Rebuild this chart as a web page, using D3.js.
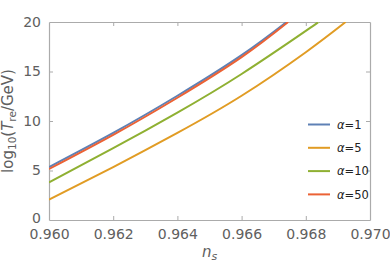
<!DOCTYPE html>
<html>
<head>
<meta charset="utf-8">
<script src="https://cdn.jsdelivr.net/npm/d3@7"></script>
<style>
  html, body { margin: 0; padding: 0; background: #fff; }
  svg { display: block; }
</style>
</head>
<body>
<svg id="chart" width="390" height="269"></svg>
<script>
// ---- data ----
const seriesLabels = ["α=1", "α=5", "α=10", "α=50"];
const seriesColors = ["#5E81B5", "#E19C24", "#8FB032", "#EB6235"];

const nsA1  = [0.960, 0.962, 0.964, 0.966, 0.9674];
const tA1   = [5.35, 8.8, 12.55, 16.65, 20];
const nsA5  = [0.960, 0.962, 0.964, 0.966, 0.968, 0.96924];
const tA5   = [2.05, 5.35, 8.8, 12.55, 16.95, 20];
const nsA10 = [0.960, 0.962, 0.964, 0.966, 0.968, 0.9684];
const tA10  = [3.8, 7.25, 10.85, 14.75, 19.1, 20];
const nsA50 = [0.960, 0.962, 0.964, 0.966, 0.96745];
const tA50  = [5.15, 8.6, 12.35, 16.45, 20];

const xTicks = [0.960, 0.962, 0.964, 0.966, 0.968, 0.970];
const yTicks = [0, 5, 10, 15, 20];

// ---- layout ----
const svg = d3.select("#chart");
const pL = 49, pR = 370, pT = 22, pB = 220;
const x = d3.scaleLinear().domain([0.960, 0.970]).range([pL, pR]);
const y = d3.scaleLinear().domain([0, 20]).range([pB, pT]);

const frameColor = "#ababab";
const labelColor = "#606060";

svg.append("defs").append("clipPath").attr("id", "clip")
  .append("rect").attr("x", pL).attr("y", pT)
  .attr("width", pR - pL).attr("height", pB - pT);

// axes (inward ticks, frame on all sides)
const axB = svg.append("g").attr("transform", `translate(0,${pB})`)
  .call(d3.axisBottom(x).tickValues(xTicks).tickFormat(d3.format(".3f")).tickSizeInner(-4).tickSizeOuter(0).tickPadding(9));
const axT = svg.append("g").attr("transform", `translate(0,${pT})`)
  .call(d3.axisTop(x).tickValues(xTicks).tickFormat("").tickSizeInner(-4).tickSizeOuter(0));
const axL = svg.append("g").attr("transform", `translate(${pL},0)`)
  .call(d3.axisLeft(y).tickValues(yTicks).tickFormat(d3.format("d")).tickSizeInner(-4).tickSizeOuter(0).tickPadding(8));
const axR = svg.append("g").attr("transform", `translate(${pR},0)`)
  .call(d3.axisRight(y).tickValues(yTicks).tickFormat("").tickSizeInner(-4).tickSizeOuter(0));

[axB, axT, axL, axR].forEach(g => {
  g.select(".domain").attr("stroke", frameColor).attr("stroke-width", 1.2);
  g.selectAll(".tick line").attr("stroke", frameColor).attr("stroke-width", 1);
  g.selectAll(".tick text").attr("fill", labelColor)
    .attr("font-family", "DejaVu Sans, sans-serif").attr("font-size", 14);
});
axB.selectAll(".tick text").attr("dy", "0.71em");
axL.selectAll(".tick text").filter(d => d === 0).attr("dy", "0.2em");
[axB, axT].forEach(g => g.selectAll(".tick line").filter(d => d === 0.960 || d === 0.970).remove());
[axL, axR].forEach(g => g.selectAll(".tick line").filter(d => d === 0 || d === 20).remove());

// curves
const series = [
  { ns: nsA1,  t: tA1 },
  { ns: nsA5,  t: tA5 },
  { ns: nsA10, t: tA10 },
  { ns: nsA50, t: tA50 }
];
const line = d3.line().x(d => x(d[0])).y(d => y(d[1])).curve(d3.curveNatural);
const plot = svg.append("g").attr("clip-path", "url(#clip)");
series.forEach((s, i) => {
  plot.append("path")
    .datum(s.ns.map((v, j) => [v, s.t[j]]))
    .attr("d", line)
    .attr("fill", "none")
    .attr("stroke", seriesColors[i])
    .attr("stroke-width", 2);
});

// legend
const legY = [124.5, 147.8, 171.1, 194.4];
const leg = svg.append("g");
seriesLabels.forEach((lab, i) => {
  leg.append("line").attr("x1", 308).attr("x2", 330)
    .attr("y1", legY[i]).attr("y2", legY[i])
    .attr("stroke", seriesColors[i]).attr("stroke-width", 2);
  const parts = lab.split("=");
  const t = leg.append("text").attr("x", 337).attr("y", legY[i]).attr("dy", "0.36em")
    .attr("font-family", "DejaVu Sans, sans-serif").attr("font-size", 11.5).attr("fill", "#222");
  t.append("tspan").attr("font-style", "italic").text(parts[0]);
  t.append("tspan").text("=" + parts[1]);
});

// axis titles
const xt = svg.append("text").attr("x", (pL + pR) / 2).attr("y", 257)
  .attr("text-anchor", "middle").attr("fill", labelColor)
  .attr("font-family", "DejaVu Sans, sans-serif").attr("font-size", 15);
xt.append("tspan").attr("font-style", "italic").text("n");
xt.append("tspan").attr("font-style", "italic").attr("font-size", 11).attr("dy", 3).text("s");

const yt = svg.append("text")
  .attr("transform", `translate(13,${(pT + pB) / 2}) rotate(-90)`)
  .attr("text-anchor", "middle").attr("fill", labelColor)
  .attr("font-family", "DejaVu Sans, sans-serif").attr("font-size", 15);
yt.append("tspan").text("log");
yt.append("tspan").attr("font-size", 10.5).attr("dy", 3).text("10");
yt.append("tspan").attr("dy", -3).text("(");
yt.append("tspan").attr("font-style", "italic").text("T");
yt.append("tspan").attr("font-size", 10.5).attr("dy", 3).text("re");
yt.append("tspan").attr("dy", -3).text("/GeV)");
</script>
</body>
</html>
